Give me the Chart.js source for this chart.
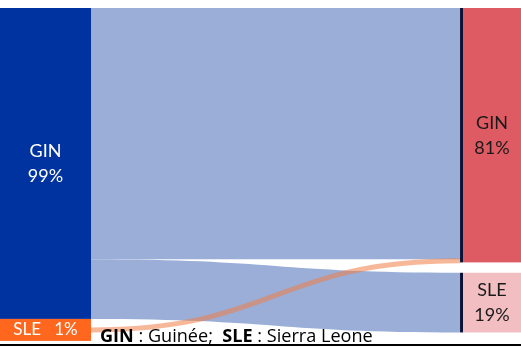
<!DOCTYPE html>
<html>
<head>
<meta charset="utf-8">
<script src="https://cdn.jsdelivr.net/npm/chart.js@4.4.1/dist/chart.umd.min.js"></script>
<style>
  html, body { margin: 0; padding: 0; background: #fff; overflow: hidden; }
  #wrap { width: 521px; height: 347px; position: relative; }
</style>
</head>
<body>
<div id="wrap"><canvas id="c" width="521" height="347"></canvas></div>
<script>
// Origin countries (left column) and their shares, in %
const sourceNodes = ['GIN', 'SLE'];
const sourceShares = [99, 1];
// Destination countries (right column) and their shares, in %
const targetNodes = ['GIN', 'SLE'];
const targetShares = [81, 19];
// Flows between origin and destination, in %
const flowFrom = ['GIN', 'GIN', 'SLE'];
const flowTo = ['GIN', 'SLE', 'GIN'];
const flowValues = [80, 19, 1];
// Key under the diagram: [text, bold]
const legendParts = [['GIN', true], [' : Guinée;  ', false], ['SLE', true], [' : Sierra Leone', false]];

// Styling
const sourceColors = { GIN: '#0033A0', SLE: '#FF671F' };
const targetColors = { GIN: '#DE5B64', SLE: '#F2BEC2' };
const flowColors = { GIN: 'rgba(154,174,216,1)', SLE: 'rgba(240,125,70,0.55)' };
const sourceTextColor = '#ffffff';
const targetTextColor = '#1a1a1a';
const edgeColor = '#0B1236';
const labelFont = 'Lato';
const keyFont = '"Open Sans"';
const KEY_WIDTH = 273;      // width the key line is set to

// Column geometry in x-axis units (0..100)
const SRC_X = [0, 17.47];
const TGT_X = [88.87, 100];
const EDGE_X = 88.3;
const TGT_GAP = 3.3;        // vertical gap between destination nodes
const MIN_NODE = 7;         // smallest drawn node height
const MIN_FLOW_PX = 5;      // thinnest drawn flow

function layoutColumn(names, shares, gap) {
  const out = {};
  let pos = 0;
  names.forEach((n, i) => {
    const h = Math.max(shares[i], MIN_NODE);
    out[n] = { start: pos, end: pos + h, value: shares[i], offset: pos + (h - shares[i]) / 2 };
    pos += h + gap;
  });
  return out;
}

const sankeyPlugin = {
  id: 'sankeyPlugin',
  afterDatasetsDraw(chart) {
    const ctx = chart.ctx;
    const xs = chart.scales.x, ys = chart.scales.y;
    const X = v => xs.getPixelForValue(v);
    const Y = v => ys.getPixelForValue(v);
    const src = layoutColumn(sourceNodes, sourceShares, 0);
    const tgt = layoutColumn(targetNodes, targetShares, TGT_GAP);

    const x0 = X(SRC_X[1]), x1 = X(EDGE_X), xm = (x0 + x1) / 2;
    const bands = flowValues.map((v, i) => {
      const s = src[flowFrom[i]], t = tgt[flowTo[i]];
      const b = { from: flowFrom[i], s0: s.offset, s1: s.offset + v, t0: t.offset, t1: t.offset + v };
      s.offset += v; t.offset += v;
      return b;
    });

    // wide flows first, thin ones on top
    const order = bands.map((b, i) => i).sort((a, b) => flowValues[b] - flowValues[a]);
    order.forEach(i => {
      const b = bands[i];
      const ya0 = Y(b.s0), ya1 = Y(b.s1), yb0 = Y(b.t0), yb1 = Y(b.t1);
      ctx.save();
      if (ya1 - ya0 < MIN_FLOW_PX) {
        const yc0 = (ya0 + ya1) / 2, yc1 = (yb0 + yb1) / 2;
        ctx.beginPath();
        ctx.moveTo(x0, yc0);
        ctx.bezierCurveTo(xm, yc0, xm, yc1, x1, yc1);
        ctx.strokeStyle = flowColors[b.from];
        ctx.lineWidth = MIN_FLOW_PX;
        ctx.stroke();
      } else {
        ctx.beginPath();
        ctx.moveTo(x0, ya0);
        ctx.bezierCurveTo(xm, ya0, xm, yb0, x1, yb0);
        ctx.lineTo(x1, yb1);
        ctx.bezierCurveTo(xm, yb1, xm, ya1, x0, ya1);
        ctx.closePath();
        ctx.fillStyle = flowColors[b.from];
        ctx.fill();
      }
      ctx.restore();
    });

    // nodes
    sourceNodes.forEach(n => {
      const s = src[n];
      ctx.fillStyle = sourceColors[n];
      ctx.fillRect(X(SRC_X[0]), Y(s.start), X(SRC_X[1]) - X(SRC_X[0]), Y(s.end) - Y(s.start));
    });
    targetNodes.forEach(n => {
      const t = tgt[n];
      ctx.fillStyle = edgeColor;
      ctx.fillRect(X(EDGE_X), Y(t.start), X(TGT_X[0]) - X(EDGE_X), Y(t.end) - Y(t.start));
      ctx.fillStyle = targetColors[n];
      ctx.fillRect(X(TGT_X[0]), Y(t.start), X(TGT_X[1]) - X(TGT_X[0]), Y(t.end) - Y(t.start));
    });

    // node labels
    ctx.textAlign = 'center';
    ctx.textBaseline = 'middle';
    sourceNodes.forEach((n, i) => {
      const s = src[n];
      const cx = (X(SRC_X[0]) + X(SRC_X[1])) / 2, cy = (Y(s.start) + Y(s.end)) / 2;
      ctx.fillStyle = sourceTextColor;
      if (Y(s.end) - Y(s.start) > 50) {
        ctx.font = '18px ' + labelFont;
        ctx.fillText(n, cx, cy - 12);
        ctx.fillText(sourceShares[i] + '%', cx, cy + 13);
      } else {
        ctx.font = '17px ' + labelFont;
        ctx.fillText(n + '   ' + sourceShares[i] + '%', cx, cy);
      }
    });
    targetNodes.forEach((n, i) => {
      const t = tgt[n];
      const cx = (X(TGT_X[0]) + X(TGT_X[1])) / 2, cy = (Y(t.start) + Y(t.end)) / 2;
      ctx.fillStyle = targetTextColor;
      ctx.font = '18px ' + labelFont;
      ctx.fillText(n, cx, cy - 12);
      ctx.fillText(targetShares[i] + '%', cx, cy + 13);
    });

    // key line, sized to its set width
    ctx.textAlign = 'left';
    ctx.textBaseline = 'alphabetic';
    const fontFor = (bold, size) => (bold ? 'bold ' : '') + size + 'px ' + keyFont;
    let w16 = 0;
    legendParts.forEach(([txt, bold]) => { ctx.font = fontFor(bold, 16); w16 += ctx.measureText(txt).width; });
    const size = 16 * KEY_WIDTH / w16;
    let lx = 100;
    const ly = 341.5;
    legendParts.forEach(([txt, bold]) => {
      ctx.font = fontFor(bold, size);
      ctx.fillStyle = '#000';
      ctx.fillText(txt, lx, ly);
      lx += ctx.measureText(txt).width;
    });
  }
};

new Chart(document.getElementById('c'), {
  type: 'scatter',
  data: { datasets: [{ data: [] }] },
  options: {
    responsive: false,
    animation: false,
    events: [],
    layout: { padding: { top: 8, left: 0, right: 0, bottom: 2 } },
    plugins: { legend: { display: false }, tooltip: { enabled: false } },
    scales: {
      x: {
        type: 'linear', min: 0, max: 100,
        ticks: { display: false },
        grid: { display: false, drawTicks: false },
        border: { display: true, color: '#000', width: 2 }
      },
      y: { type: 'linear', min: 0, max: 107.3, reverse: true, display: false }
    }
  },
  plugins: [sankeyPlugin]
});
</script>
</body>
</html>
